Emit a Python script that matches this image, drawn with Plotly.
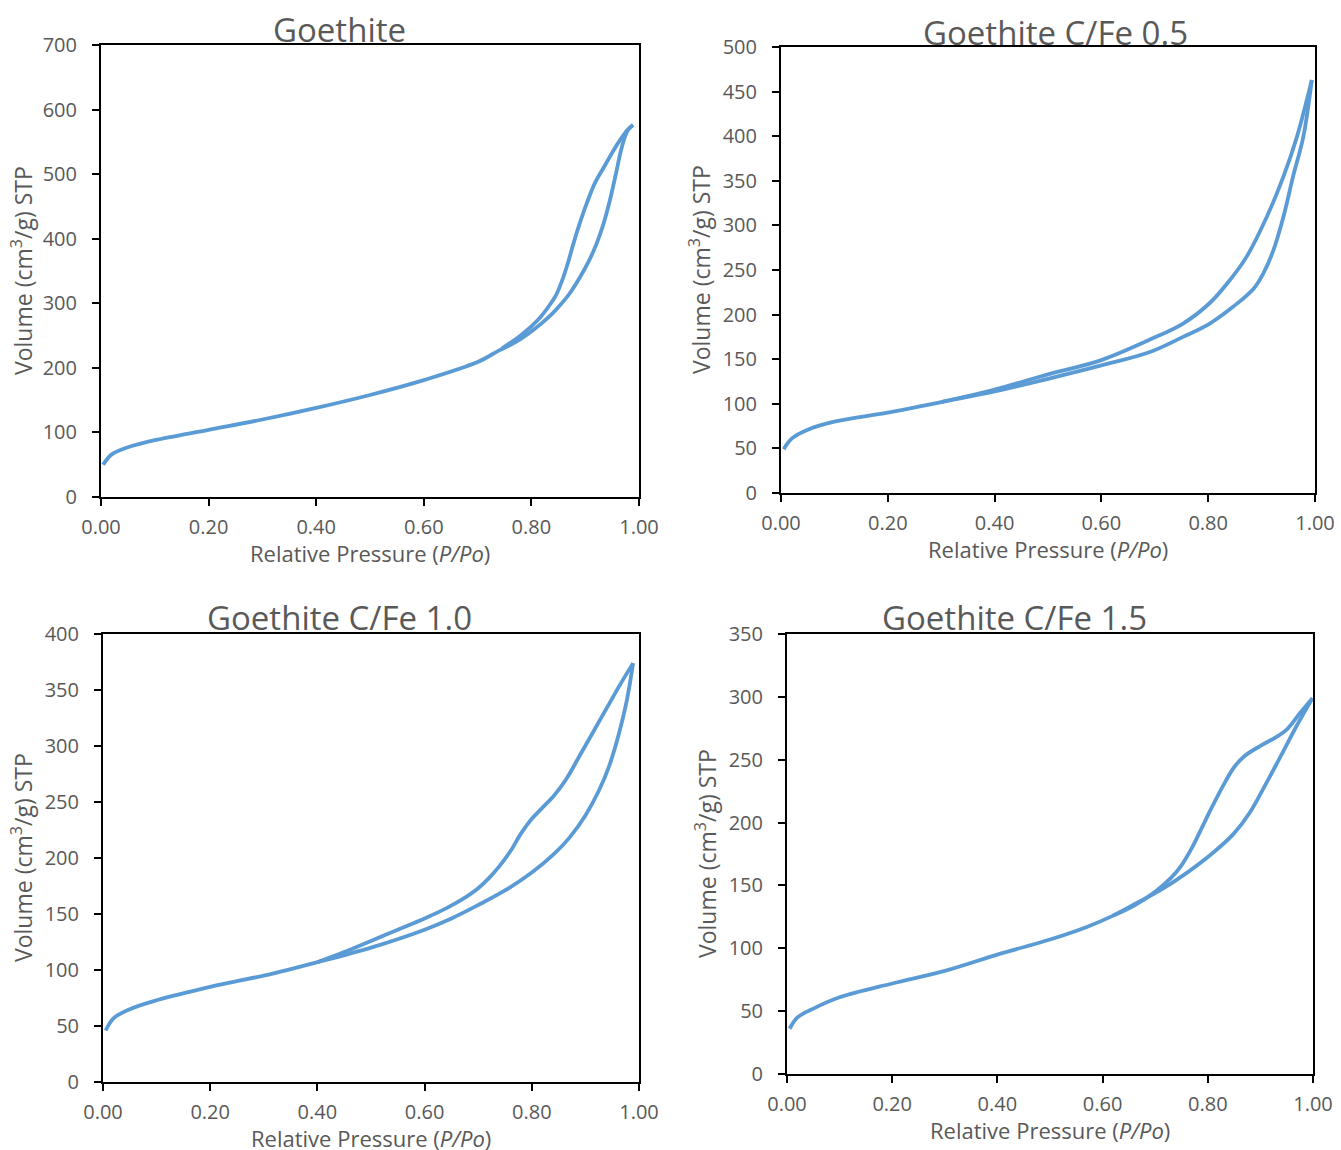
import plotly.graph_objects as go

# N2 sorption isotherms: relative pressure (P/Po) vs adsorbed volume (cm3/g STP)
titles = ["Goethite", "Goethite C/Fe 0.5", "Goethite C/Fe 1.0", "Goethite C/Fe 1.5"]
y_max = [700, 500, 400, 350]
y_step = [100, 50, 50, 50]
x_ticks = [0.0, 0.2, 0.4, 0.6, 0.8, 1.0]

# Goethite
g0_p_ads = [0.004, 0.02, 0.05, 0.1, 0.2, 0.3, 0.4, 0.5, 0.6, 0.7, 0.74, 0.773, 0.804, 0.83, 0.85,
            0.87, 0.89, 0.906, 0.921, 0.934, 0.946, 0.958, 0.966, 0.974, 0.981, 0.989]
g0_v_ads = [50, 66, 77, 88, 104, 120, 138, 158, 181, 209, 227, 241, 259, 277, 294,
            314, 340, 364, 392, 423, 460, 504, 535, 558, 570, 576]
g0_p_des = [0.989, 0.978, 0.965, 0.952, 0.935, 0.918, 0.903, 0.89, 0.878, 0.867, 0.857, 0.846,
            0.832, 0.812, 0.78, 0.745]
g0_v_des = [576, 568, 553, 536, 511, 486, 455, 424, 392, 360, 335, 313,
            295, 274, 250, 230]

# Goethite C/Fe 0.5
g1_p_ads = [0.005, 0.02, 0.05, 0.1, 0.2, 0.3, 0.4, 0.5, 0.6, 0.691, 0.753, 0.803, 0.847, 0.885,
            0.903, 0.922, 0.941, 0.959, 0.978, 0.994]
g1_v_ads = [49, 61, 71, 80, 90, 102, 114, 128, 143, 158, 175, 190, 209, 229,
            246, 272, 310, 355, 399, 463]
g1_p_des = [0.994, 0.966, 0.941, 0.91, 0.872, 0.841, 0.803, 0.753, 0.691, 0.6, 0.5, 0.4, 0.3]
g1_v_des = [463, 399, 355, 310, 265, 239, 213, 190, 172, 149, 133, 116, 102]

# Goethite C/Fe 1.0
g2_p_ads = [0.005, 0.02, 0.05, 0.1, 0.2, 0.3, 0.4, 0.5, 0.6, 0.65, 0.7, 0.75, 0.8, 0.84,
            0.87, 0.9, 0.925, 0.945, 0.962, 0.977, 0.989]
g2_v_ads = [46, 57, 65, 73, 85, 95, 107, 120, 136, 146, 158, 171, 187, 203,
            218, 238, 260, 283, 310, 340, 374]
g2_p_des = [0.989, 0.965, 0.94, 0.915, 0.89, 0.865, 0.842, 0.82, 0.8, 0.78, 0.76, 0.74, 0.72,
            0.7, 0.67, 0.64, 0.6, 0.55, 0.5, 0.45, 0.4]
g2_v_des = [374, 355, 334, 313, 292, 271, 256, 245, 235, 222, 206, 193, 182,
            173, 163, 155, 146, 136, 126, 116, 107]

# Goethite C/Fe 1.5
g3_p_ads = [0.005, 0.02, 0.05, 0.1, 0.2, 0.3, 0.4, 0.5, 0.57, 0.62, 0.665, 0.709, 0.76, 0.81,
            0.849, 0.88, 0.912, 0.944, 0.969, 0.999]
g3_v_ads = [36, 45, 52, 61, 72, 82, 95, 107, 117, 126, 136, 146, 160, 176,
            191, 208, 232, 257, 277, 299]
g3_p_des = [0.999, 0.975, 0.95, 0.93, 0.9, 0.87, 0.85, 0.83, 0.81, 0.79, 0.77, 0.75, 0.73,
            0.7, 0.66, 0.62]
g3_v_des = [299, 287, 274, 268, 261, 253, 244, 230, 214, 197, 180, 166, 156,
            145, 134, 126]

series = [
    (g0_p_ads, g0_v_ads, g0_p_des, g0_v_des),
    (g1_p_ads, g1_v_ads, g1_p_des, g1_v_des),
    (g2_p_ads, g2_v_ads, g2_p_des, g2_v_des),
    (g3_p_ads, g3_v_ads, g3_p_des, g3_v_des),
]

W, H = 1341, 1150
# plot boxes in pixels: left, right, top, bottom
boxes = [(101, 639, 45, 497), (781, 1315, 47, 493), (103, 639, 634, 1082), (787, 1313, 634, 1074)]
title_pos = [(339, 30), (1055, 32), (339, 617), (1015, 617)]
ytitle_x = [22, 700, 22, 706]

LINE = "#5B9BD5"
TXT = "#595959"
FONT = "Open Sans"

fig = go.Figure()
annotations = []
for i, (pa, va, pd, vd) in enumerate(series):
    n = "" if i == 0 else str(i + 1)
    xa, ya = "x" + n, "y" + n
    for px, vy in ((pa, va), (pd, vd)):
        fig.add_trace(go.Scatter(
            x=px, y=vy, mode="lines", xaxis=xa, yaxis=ya,
            line=dict(color=LINE, width=3.8, shape="spline", smoothing=1.0),
            showlegend=False, hoverinfo="skip",
        ))
    l, r, t, b = boxes[i]
    common = dict(showline=True, linecolor="black", linewidth=2, mirror=True,
                  ticks="outside", ticklen=7, tickwidth=2, tickcolor="black",
                  showgrid=False, zeroline=False, automargin=False,
                  tickfont=dict(family=FONT, size=20, color=TXT))
    fig.layout["xaxis" + n] = dict(
        domain=[l / W, r / W], anchor=ya, range=[0, 1],
        tickvals=x_ticks, tickformat=".2f", ticklabelstandoff=4, **common)
    fig.layout["yaxis" + n] = dict(
        domain=[1 - b / H, 1 - t / H], anchor=xa, range=[0, y_max[i]],
        dtick=y_step[i], tick0=0, ticklabelstandoff=11, **common)

    tx, ty = title_pos[i]
    annotations.append(dict(text=titles[i], x=tx / W, y=1 - ty / H, xref="paper", yref="paper",
                            showarrow=False, xanchor="center", yanchor="middle",
                            font=dict(family=FONT, size=33, color=TXT)))
    annotations.append(dict(text="Relative Pressure (<i>P/Po</i>)", x=(l + r) / 2 / W,
                            y=1 - (b + 56) / H, xref="paper", yref="paper",
                            showarrow=False, xanchor="center", yanchor="middle",
                            font=dict(family=FONT, size=22, color=TXT)))
    annotations.append(dict(text="Volume (cm<sup>3</sup>/g) STP", x=ytitle_x[i] / W,
                            y=1 - (t + b) / 2 / H, xref="paper", yref="paper",
                            showarrow=False, xanchor="center", yanchor="middle", textangle=-90,
                            font=dict(family=FONT, size=23, color=TXT)))

fig.update_layout(template="none", width=W, height=H, margin=dict(l=0, r=0, t=0, b=0),
                  paper_bgcolor="white", plot_bgcolor="white",
                  annotations=annotations)
fig.write_html("out.html", config={"displayModeBar": False})
